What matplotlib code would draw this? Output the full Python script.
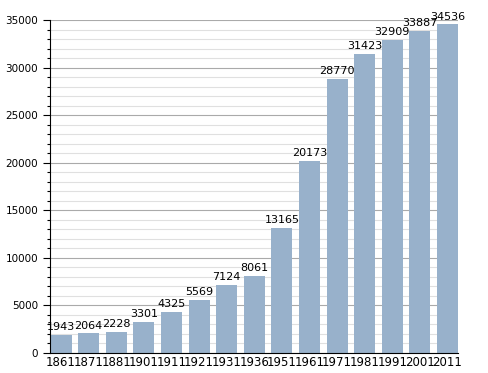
import matplotlib.pyplot as plt
from matplotlib.ticker import MultipleLocator

years = ["1861", "1871", "1881", "1901", "1911", "1921", "1931", "1936",
         "1951", "1961", "1971", "1981", "1991", "2001", "2011"]
population = [1943, 2064, 2228, 3301, 4325, 5569, 7124, 8061,
              13165, 20173, 28770, 31423, 32909, 33887, 34536]

fig = plt.figure(figsize=(4.88, 3.73), dpi=100)
ax = fig.add_axes([50 / 488, 20 / 373, 408 / 488, 333 / 373])

x = range(len(years))
ax.bar(x, population, width=0.76, color="#98b1cb", zorder=2)
for i, v in enumerate(population):
    ax.text(i, v + 300, str(v), ha="center", va="bottom", fontsize=8, zorder=3)

ax.set_xlim(-0.4, len(years) - 0.62)
ax.set_ylim(0, 35000)
ax.set_xticks(list(x))
ax.set_xticklabels(years, fontsize=8.5)
ax.yaxis.set_major_locator(MultipleLocator(5000))
ax.yaxis.set_minor_locator(MultipleLocator(1000))
ax.tick_params(axis="y", labelsize=7.5, length=5, width=0.8)
ax.tick_params(axis="y", which="minor", length=2.5, width=0.8)
ax.tick_params(axis="x", length=0, pad=2)

ax.grid(axis="y", which="major", color="#aaaaaa", linewidth=0.8, zorder=0)
ax.grid(axis="y", which="minor", color="#e0e0e0", linewidth=0.8, zorder=0)
ax.set_axisbelow(True)

for side in ["top", "right"]:
    ax.spines[side].set_visible(False)

plt.savefig("out.png", dpi=100)
